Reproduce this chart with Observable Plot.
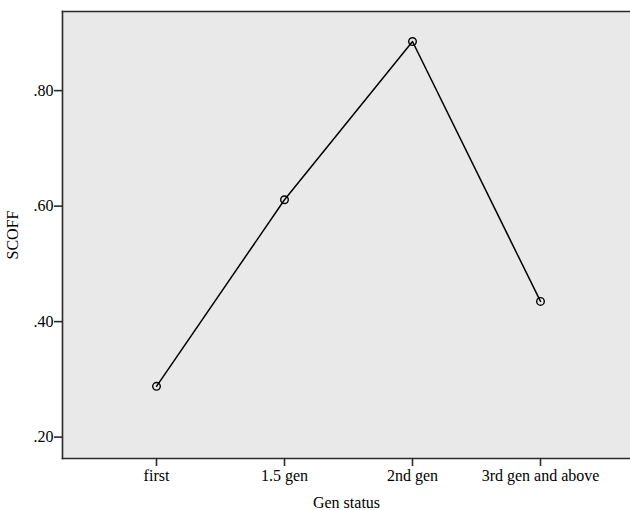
<!DOCTYPE html>
<html>
<head>
<meta charset="utf-8">
<script src="https://cdn.jsdelivr.net/npm/d3@7"></script>
<script src="https://cdn.jsdelivr.net/npm/@observablehq/plot@0.6"></script>
<style>
  html, body { margin: 0; padding: 0; background: #ffffff; }
  #chart { width: 630px; height: 510px; }
</style>
</head>
<body>
<div id="chart"></div>
<script>
const categories = ["first", "1.5 gen", "2nd gen", "3rd gen and above"];
const scoff = [0.288, 0.611, 0.885, 0.435];
const yTicks = [0.2, 0.4, 0.6, 0.8];

const data = categories.map((c, i) => ({gen: c, value: scoff[i]}));
const fmt = d => d3.format(".2f")(d).replace(/^0/, "");

const chart = Plot.plot({
  width: 630,
  height: 510,
  marginLeft: 62,
  marginRight: 0,
  marginTop: 11,
  marginBottom: 52,
  style: {fontFamily: "'Liberation Serif', 'Times New Roman', serif", fontSize: "16px", color: "#000", background: "#ffffff"},
  x: {type: "point", domain: categories, padding: 0.71, align: 0.51},
  y: {domain: [0.163, 0.937]},
  marks: [
    Plot.frame({fill: "#e9e9e9", stroke: "none"}),
    Plot.frame({anchor: "left", stroke: "#2a2a2a", strokeWidth: 1.6}),
    Plot.frame({anchor: "top", stroke: "#2a2a2a", strokeWidth: 1.6}),
    Plot.frame({anchor: "bottom", stroke: "#2a2a2a", strokeWidth: 1.6}),
    Plot.axisY({ticks: yTicks, tickFormat: fmt, tickSize: 8, tickPadding: 1, stroke: "#2a2a2a", strokeWidth: 1.6,
      label: "SCOFF", labelAnchor: "center", labelArrow: "none", labelOffset: 56}),
    Plot.axisX({tickSize: 8, tickPadding: 3, stroke: "#2a2a2a", strokeWidth: 1.6,
      label: "Gen status", labelAnchor: "center", labelArrow: "none", labelOffset: 49}),
    Plot.line(data, {x: "gen", y: "value", stroke: "#000", strokeWidth: 1.5}),
    Plot.dot(data, {x: "gen", y: "value", r: 3.8, stroke: "#000", strokeWidth: 1.4, fill: "none"})
  ]
});
document.getElementById("chart").appendChild(chart);
</script>
</body>
</html>
